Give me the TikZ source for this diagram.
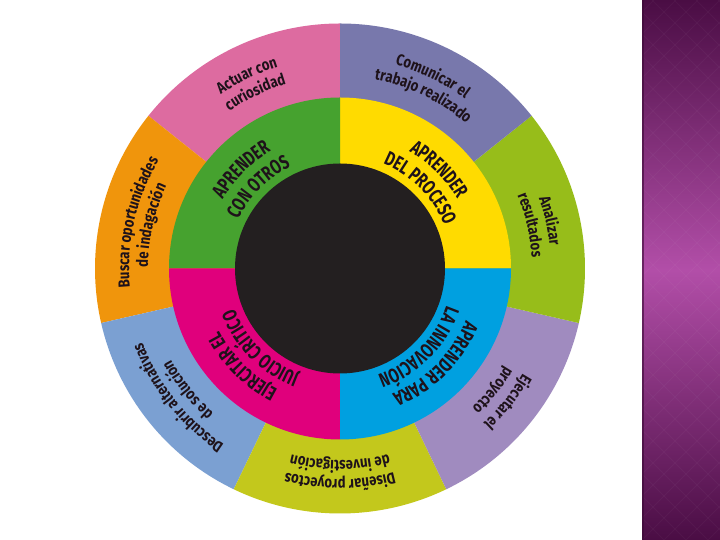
\documentclass[tikz,border=0pt]{standalone}
\usepackage{fontspec}
\newfontfamily\wf{Fira Sans}[FakeStretch=0.82]
\newfontfamily\wfi{Fira Sans}[FakeStretch=0.72]
\usetikzlibrary{decorations.text}
\definecolor{cpink}{HTML}{DD6BA0}
\definecolor{cpurple}{HTML}{7878AC}
\definecolor{cgreen}{HTML}{97BD1A}
\definecolor{clav}{HTML}{A08BBF}
\definecolor{colive}{HTML}{C3C81C}
\definecolor{cblue}{HTML}{7BA0D2}
\definecolor{corange}{HTML}{F0950C}
\definecolor{igreen}{HTML}{46A22F}
\definecolor{iyellow}{HTML}{FFDB00}
\definecolor{icyan}{HTML}{00A0E0}
\definecolor{imag}{HTML}{E0007C}
\definecolor{cblack}{HTML}{231F20}
\definecolor{txt}{HTML}{1E121A}
\definecolor{pdark}{HTML}{4A0D44}
\definecolor{pmid}{HTML}{B24EA8}
% #1 centre angle, #2 baseline radius, #3 half span, #4 font command, #5 text
\newcommand\arctext[5]{%
  \path[decorate, decoration={text along path, text align=center, text color=txt,
    text={|#4|#5}}]
    ({#1+#3}:#2) arc[start angle={#1+#3}, end angle={#1-#3}, radius=#2];}
\newcommand\outf{\wf\bfseries\fontsize{16}{16}\selectfont}
\newcommand\innf{\wfi\bfseries\fontsize{20}{20}\selectfont}
\begin{document}
\begin{tikzpicture}[x=1pt,y=1pt]
\useasboundingbox (0,0) rectangle (720,540);
\fill[white] (0,0) rectangle (720,540);
% right panel
\shade[top color=pdark, bottom color=pdark, middle color=pmid] (642,0) rectangle (720,540);
\begin{scope}
  \clip (642,0) rectangle (720,540);
  \foreach \k in {-40,...,40} {
    \draw[white, opacity=0.03, line width=1pt] (642+\k*22,0) -- ++(540,540);
    \draw[white, opacity=0.03, line width=1pt] (642+\k*22,0) -- ++(-540,540);
  }
\end{scope}
\fill[pdark!80!black, opacity=0.6] (642,0) rectangle (644,540);
% wheel
\begin{scope}[shift={(340,271.5)}]
  \foreach \a/\b/\c in {90/141.43/cpink, 141.43/192.86/corange, 192.86/244.29/cblue,
      244.29/295.71/colive, 295.71/347.14/clav, 347.14/398.57/cgreen, 398.57/450/cpurple}
    \fill[\c] (0,0) -- (\a:245) arc[start angle=\a, end angle=\b, radius=245] -- cycle;
  \foreach \a/\c in {0/iyellow, 90/igreen, 180/imag, 270/icyan}
    \fill[\c] (0,0) -- (\a:171) arc[start angle=\a, end angle=\a+90, radius=171] -- cycle;
  \fill[cblack] (0,0) circle[radius=105];
  % outer texts
  \arctext{115.71}{211}{28}{\outf}{Actuar con}
  \arctext{115.71}{192}{28}{\outf}{curiosidad}
  \arctext{64.29}{211}{28}{\outf}{Comunicar el}
  \arctext{64.29}{192}{28}{\outf}{trabajo realizado}
  \arctext{12.86}{211}{28}{\outf}{Analizar}
  \arctext{12.86}{192}{28}{\outf}{resultados}
  \arctext{-38.57}{211}{28}{\outf}{Ejecutar el}
  \arctext{-38.57}{192}{28}{\outf}{proyecto}
  \arctext{-90}{211}{28}{\outf}{Diseñar proyectos}
  \arctext{-90}{192}{28}{\outf}{de investigación}
  \arctext{-141.43}{211}{28}{\outf}{Descubrir alternativas}
  \arctext{-141.43}{192}{28}{\outf}{de solución}
  \arctext{167.14}{211}{28}{\outf}{Buscar oportunidades}
  \arctext{167.14}{192}{28}{\outf}{de indagación}
  % inner texts
  \arctext{135}{136}{42}{\innf}{APRENDER}
  \arctext{135}{113}{42}{\innf}{CON OTROS}
  \arctext{45}{136}{42}{\innf}{APRENDER}
  \arctext{45}{113}{42}{\innf}{DEL PROCESO}
  \arctext{-45}{136}{42}{\innf}{APRENDER PARA}
  \arctext{-45}{113}{42}{\innf}{LA INNOVACIÓN}
  \arctext{-135}{136}{42}{\innf}{EJERCITAR EL}
  \arctext{-135}{113}{42}{\innf}{JUICIO CRÍTICO}
\end{scope}
\end{tikzpicture}
\end{document}
